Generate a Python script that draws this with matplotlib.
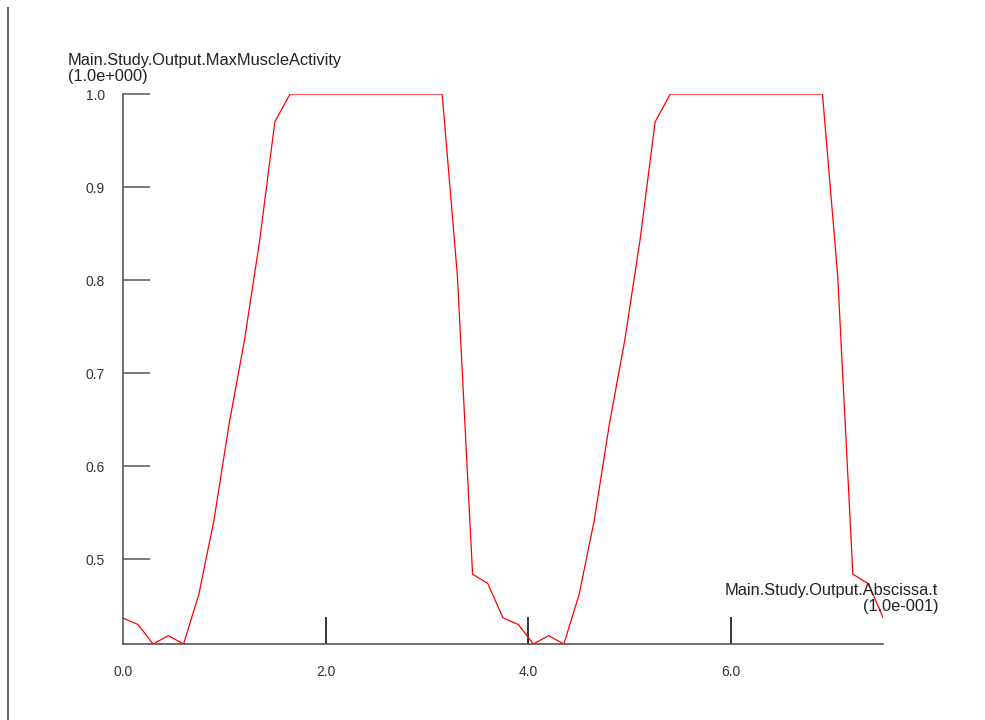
import matplotlib as mpl
import matplotlib.pyplot as plt
from matplotlib.lines import Line2D

# time in units of 0.1 s, step 0.15
t = [i * 0.15 for i in range(51)]
# MaxMuscleActivity, two gait cycles of 25 samples
cycle1 = [0.437, 0.430, 0.409, 0.418, 0.409, 0.462, 0.542, 0.646, 0.735, 0.842,
          0.970, 1.0, 1.0, 1.0, 1.0, 1.0, 1.0, 1.0, 1.0, 1.0,
          1.0, 1.0, 0.805, 0.484, 0.474]
cycle2 = [0.437, 0.430, 0.409, 0.418, 0.409, 0.462, 0.542, 0.646, 0.735, 0.842,
          0.970, 1.0, 1.0, 1.0, 1.0, 1.0, 1.0, 1.0, 1.0, 1.0,
          1.0, 1.0, 0.805, 0.484, 0.474]
last = [0.437]
activity = cycle1 + cycle2 + last

xticks = [0.0, 2.0, 4.0, 6.0]
yticks = [0.5, 0.6, 0.7, 0.8, 0.9, 1.0]

W, H = 985, 720
mpl.rcParams['font.family'] = ['Liberation Sans', 'DejaVu Sans']

fig = plt.figure(figsize=(W / 100, H / 100), dpi=100)
fig.patch.set_facecolor('white')
ax = fig.add_axes([122.7 / W, 1 - 644 / H, (883.3 - 122.7) / W, (644 - 94) / H])

ax.plot(t, activity, color='red', lw=0.9)
ax.set_xlim(0, 7.5)
ax.set_ylim(min(activity), 1.0)

for s in ['top', 'right']:
    ax.spines[s].set_visible(False)
for s in ['left', 'bottom']:
    ax.spines[s].set_color('#555555')
    ax.spines[s].set_linewidth(1.2)

ax.set_xticks(xticks)
ax.set_xticklabels(['%.1f' % v for v in xticks])
ax.set_yticks(yticks)
ax.set_yticklabels(['%.1f' % v for v in yticks])
ax.tick_params(axis='x', direction='in', length=27 / 1.389, width=1.1, color='black',
               pad=15, labelsize=10, labelcolor='#333333')
ax.tick_params(axis='y', direction='in', length=27 / 1.389, width=1.1, color='#555555',
               pad=13, labelsize=10, labelcolor='#333333')
ax.xaxis.get_major_ticks()[0].tick1line.set_visible(False)

# axis titles
fig.text(67.7 / W, 1 - 61 / H, 'Main.Study.Output.MaxMuscleActivity', fontsize=11.8,
         color='#222222', ha='left', va='center')
fig.text(67.7 / W, 1 - 76 / H, '(1.0e+000)', fontsize=11.8,
         color='#222222', ha='left', va='center')
fig.text(938.3 / W, 1 - 590 / H, 'Main.Study.Output.Abscissa.t', fontsize=11.8,
         color='#222222', ha='right', va='center')
fig.text(938.3 / W, 1 - 607 / H, '(1.0e-001)', fontsize=11.8,
         color='#222222', ha='right', va='center')

# window border line on the left
fig.add_artist(Line2D([8.3 / W, 8.3 / W], [0, 1 - 8 / H], transform=fig.transFigure,
                      color='#666666', lw=1.5))

fig.savefig('out.png', dpi=100)
